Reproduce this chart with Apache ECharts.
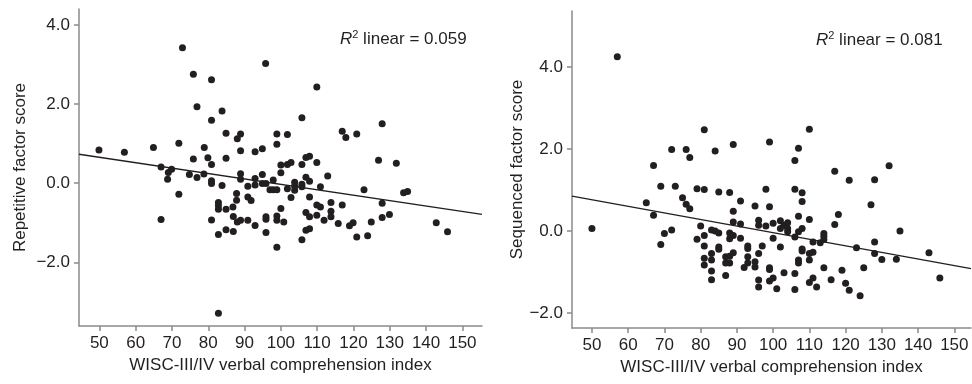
<!DOCTYPE html>
<html>
<head>
<meta charset="utf-8">
<script src="https://cdn.jsdelivr.net/npm/echarts@6/dist/echarts.min.js"></script>
<style>html,body{margin:0;padding:0;background:#fff}#c{width:972px;height:384px}</style>
</head>
<body>
<div id="c"></div>
<script>
// ---- data ----
var xTicks = [50, 60, 70, 80, 90, 100, 110, 120, 130, 140, 150];
var yTicks = [-2, 0, 2, 4];
var xName = 'WISC-III/IV verbal comprehension index';
var leftYName = 'Repetitive factor score';
var rightYName = 'Sequenced factor score';
var leftR2 = '0.059';
var rightR2 = '0.081';

var repetitive = [
[72.9,3.42],[95.8,3.02],[75.9,2.75],[80.9,2.61],[76.9,1.93],[83.8,1.82],[80.9,1.59],[84.9,1.26],[88.9,1.24],[88.0,1.12],[98.9,1.24],[98.9,0.98],[49.9,0.84],[56.9,0.78],[64.9,0.90],[71.9,1.01],[78.9,0.90],[88.9,0.82],[92.9,0.79],[94.9,0.87],[75.9,0.61],[79.9,0.64],[80.9,0.47],[84.9,0.63],[67.0,0.41],[69.9,0.35],[69.0,0.27],[68.8,0.10],[74.8,0.22],[76.9,0.14],[78.8,0.23],[80.9,0.06],[80.9,-0.01],[83.8,-0.06],[88.9,0.24],[88.9,0.10],[90.9,-0.08],[92.9,0.12],[92.9,-0.05],[94.9,0.22],[94.9,-0.01],[95.9,-0.01],[97.9,0.08],[97.0,-0.17],[97.9,-0.17],[98.9,-0.17],[100.0,0.46],[100.0,0.26],[71.9,-0.28],[67.0,-0.92],[82.8,-0.49],[82.8,-0.57],[82.8,-0.66],[84.9,-0.66],[86.8,-0.60],[87.8,-0.43],[87.8,-0.26],[90.9,-0.35],[91.8,-0.44],[86.9,-0.84],[88.0,-0.98],[88.9,-0.94],[90.9,-0.94],[92.9,-1.07],[95.9,-0.85],[95.9,-0.91],[98.9,-0.83],[98.9,-0.94],[100.0,-0.64],[100.8,-0.98],[80.9,-0.93],[82.8,-1.30],[84.9,-1.18],[86.9,-1.22],[95.9,-1.25],[98.9,-1.62],[82.8,-3.29],
[109.9,2.43],[105.8,1.65],[101.8,1.23],[116.9,1.31],[117.9,1.15],[120.9,1.24],[127.9,1.50],[101.8,0.47],[102.8,0.52],[105.8,0.47],[106.9,0.65],[107.9,0.68],[109.9,0.52],[126.9,0.58],[131.8,0.50],[106.9,0.15],[107.9,0.05],[112.9,0.18],[103.8,0.02],[103.8,-0.08],[105.8,-0.03],[105.8,-0.09],[101.8,-0.14],[103.8,-0.18],[110.9,-0.09],[102.8,-0.36],[107.9,-0.35],[122.9,-0.17],[133.8,-0.24],[134.9,-0.21],[109.9,-0.55],[110.9,-0.60],[113.8,-0.49],[116.9,-0.55],[127.9,-0.51],[106.9,-0.74],[107.9,-0.85],[109.9,-0.81],[111.9,-0.94],[113.8,-0.71],[113.8,-0.85],[115.8,-1.02],[118.9,-1.08],[119.9,-1.00],[124.9,-0.98],[127.9,-0.87],[129.9,-0.79],[106.9,-1.19],[107.9,-1.15],[105.8,-1.43],[120.9,-1.36],[123.9,-1.33],[142.8,-1.00],[145.9,-1.23]
];

var sequenced = [
[57.0,4.25],[81.0,2.47],[72.0,1.99],[76.0,1.99],[77.0,1.79],[84.0,1.95],[89.0,2.11],[99.0,2.17],[67.0,1.60],[69.0,1.09],[73.0,1.09],[79.0,1.03],[81.0,1.01],[85.0,0.95],[88.0,0.94],[98.0,1.02],[75.0,0.81],[76.0,0.65],[77.0,0.54],[65.0,0.69],[67.0,0.38],[91.0,0.73],[95.0,0.61],[99.0,0.59],[89.0,0.48],[89.0,0.22],[91.0,0.17],[96.0,0.26],[96.0,0.14],[98.0,0.12],[100.0,0.19],[50.0,0.06],[80.0,0.12],[70.0,-0.06],[72.0,0.02],[69.0,-0.33],[79.0,-0.20],[81.0,-0.11],[83.0,0.02],[84.0,0.00],[85.0,-0.05],[88.0,-0.05],[89.0,-0.11],[88.0,-0.19],[91.0,-0.18],[100.0,-0.18],[81.0,-0.37],[85.0,-0.39],[85.0,-0.45],[83.0,-0.55],[81.0,-0.67],[83.0,-0.71],[81.0,-0.83],[83.0,-0.98],[83.0,-1.19],[86.9,-0.63],[88.0,-0.62],[89.0,-0.53],[86.9,-0.78],[88.0,-0.78],[86.9,-1.09],[93.0,-0.37],[93.0,-0.43],[93.0,-0.63],[93.0,-0.78],[92.0,-0.89],[95.0,-0.75],[95.0,-0.88],[96.0,-0.55],[97.0,-0.37],[99.0,-0.90],[99.0,-0.94],[96.0,-1.20],[96.0,-1.37],[99.0,-1.22],
[110.0,2.48],[107.0,2.02],[106.0,1.72],[117.0,1.46],[121.0,1.24],[128.0,1.25],[132.0,1.59],[106.0,1.02],[108.0,0.93],[108.0,0.72],[127.0,0.64],[118.0,0.40],[117.0,0.16],[107.0,0.36],[110.0,0.28],[102.0,0.25],[102.0,0.06],[103.0,0.14],[104.0,0.20],[104.0,0.06],[104.0,-0.02],[106.0,-0.15],[107.0,-0.02],[108.0,0.06],[102.0,-0.39],[111.0,-0.27],[113.0,-0.29],[114.0,-0.06],[114.0,-0.13],[114.0,-0.21],[123.0,-0.41],[128.0,-0.27],[128.0,-0.55],[130.0,-0.70],[134.0,-0.69],[135.0,0.00],[143.0,-0.53],[146.0,-1.15],[108.0,-0.44],[108.0,-0.49],[110.0,-0.55],[111.0,-0.52],[107.0,-0.71],[107.0,-0.78],[110.0,-0.71],[100.0,-1.15],[103.0,-1.02],[106.0,-1.04],[114.0,-0.90],[119.0,-0.96],[125.0,-0.90],[116.0,-1.19],[120.0,-1.28],[121.0,-1.45],[124.0,-1.58],[111.0,-1.15],[110.0,-1.26],[112.0,-1.37],[101.0,-1.41],[106.0,-1.43]
];

// fit line endpoints
var repetitiveFit = [[44.4, 0.73], [155.4, -0.79]];
var sequencedFit = [[44.5, 0.85], [154.6, -0.92]];

// ---- chart ----
var FONT = '"Liberation Sans", Arial, Helvetica, sans-serif';
var TXT = '#231f20';
var AX = '#8a8a8a';
var FS = 17;

function fmtY(v) {
  var s = Math.abs(v).toFixed(1);
  return v < 0 ? '\u2212' + s : s;
}
function xAxisCfg(idx, min, max) {
  return {
    type: 'value', gridIndex: idx, min: min, max: max,
    name: xName, nameLocation: 'middle', nameGap: 30,
    nameTextStyle: {color: TXT, fontSize: FS, fontFamily: FONT},
    axisLine: {show: true, onZero: false, lineStyle: {color: AX, width: 1.5}},
    axisTick: {show: true, length: 5, customValues: xTicks, lineStyle: {color: AX, width: 1.5}},
    axisLabel: {customValues: xTicks, margin: 9, color: TXT, fontSize: FS, fontFamily: FONT},
    splitLine: {show: false}
  };
}
function yAxisCfg(idx, min, max, name, gap) {
  return {
    type: 'value', gridIndex: idx, min: min, max: max,
    name: name, nameLocation: 'middle', nameGap: gap,
    nameTextStyle: {color: TXT, fontSize: FS, fontFamily: FONT},
    axisLine: {show: true, onZero: false, lineStyle: {color: AX, width: 1.5}},
    axisTick: {show: true, length: 5, customValues: yTicks, lineStyle: {color: AX, width: 1.5}},
    axisLabel: {customValues: yTicks, margin: 9, color: TXT, fontSize: FS, fontFamily: FONT, formatter: fmtY},
    splitLine: {show: false}
  };
}
function r2Title(left, top, val) {
  return {
    left: left, top: top, padding: 0,
    text: '{r|R}{s|2}{t| linear = ' + val + '}',
    textStyle: {
      fontWeight: 'normal',
      rich: {
        r: {fontStyle: 'italic', fontWeight: 'normal', fontSize: FS, fontFamily: FONT, color: TXT, lineHeight: 20},
        s: {fontSize: 11, fontWeight: 'normal', fontFamily: FONT, color: TXT, verticalAlign: 'top', lineHeight: 11},
        t: {fontSize: FS, fontWeight: 'normal', fontFamily: FONT, color: TXT, lineHeight: 20}
      }
    }
  };
}
function scatter(idx, data) {
  return {type: 'scatter', xAxisIndex: idx, yAxisIndex: idx, data: data, symbolSize: 7,
    itemStyle: {color: '#231f20', opacity: 1}, silent: true, animation: false};
}
function fit(idx, data) {
  return {type: 'line', xAxisIndex: idx, yAxisIndex: idx, data: data, symbol: 'none',
    lineStyle: {color: '#231f20', width: 1.4}, silent: true, animation: false};
}

var chart = echarts.init(document.getElementById('c'), null, {renderer: 'canvas'});
chart.setOption({
  backgroundColor: '#fff',
  animation: false,
  title: [r2Title(340, 29, leftR2), r2Title(816, 30, rightR2)],
  grid: [
    {left: 79, right: 490, top: 9, bottom: 58},
    {left: 572, right: 1, top: 11, bottom: 56}
  ],
  xAxis: [xAxisCfg(0, 44.4, 155.4), xAxisCfg(1, 44.5, 154.6)],
  yAxis: [yAxisCfg(0, -3.61, 4.40, leftYName, 50), yAxisCfg(1, -2.37, 5.37, rightYName, 46)],
  series: [scatter(0, repetitive), fit(0, repetitiveFit), scatter(1, sequenced), fit(1, sequencedFit)]
});
</script>
</body>
</html>
